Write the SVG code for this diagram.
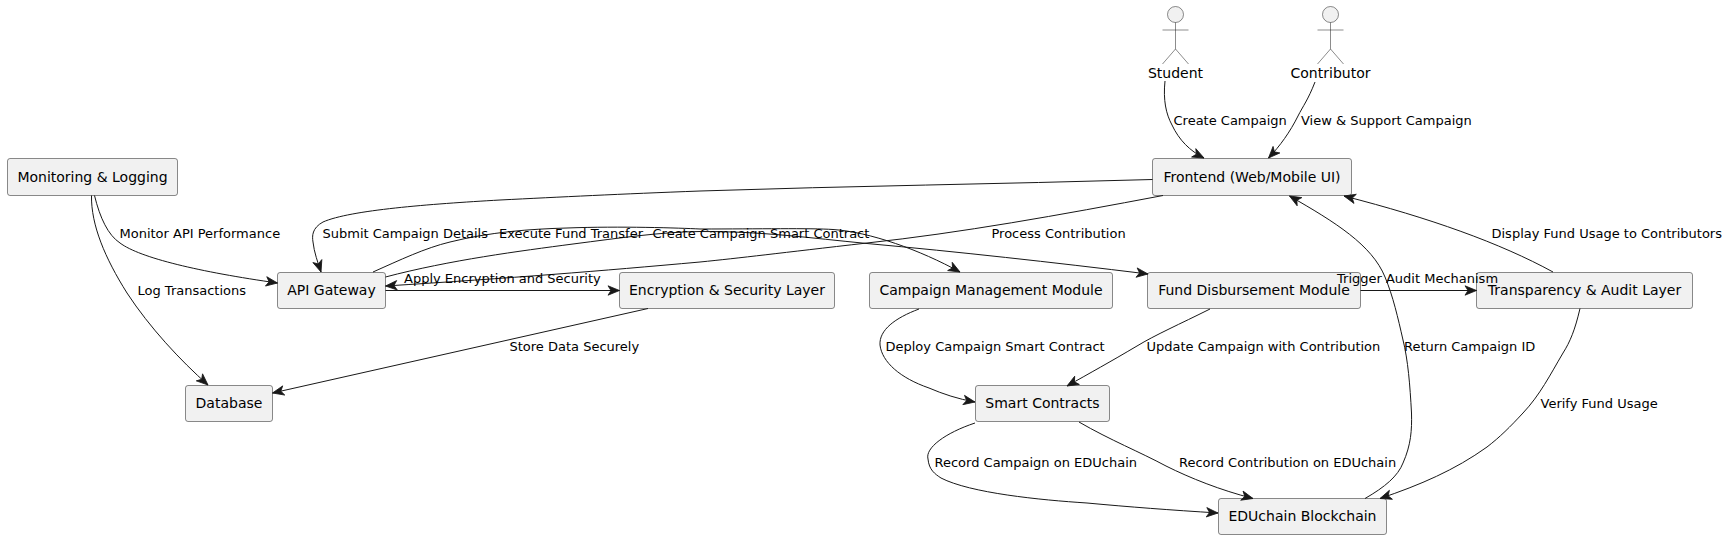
<svg xmlns="http://www.w3.org/2000/svg" width="1729" height="539" viewBox="0 0 1729 539">
<style>
text{font-family:"DejaVu Sans",sans-serif;fill:#000}
.n rect{fill:#F1F1F1;stroke:#181818;stroke-width:.5}
.n text{font-size:14px;text-anchor:middle}
.a circle{fill:#F1F1F1;stroke:#181818;stroke-width:.5}
.a path{fill:none;stroke:#181818;stroke-width:.5}
.a text{font-size:14px;text-anchor:middle}
#connectors path{fill:none;stroke:#181818;stroke-width:1;marker-end:url(#arr)}
#labels text{font-size:13px}
</style>
<defs>
<marker id="arr" markerUnits="userSpaceOnUse" markerWidth="15" markerHeight="13" refX="13" refY="6.500" orient="auto">
<path d="M13 6.500L1.500 1.800L4.500 6.500L1.500 11.200Z" fill="#181818" stroke="#181818" stroke-width=".8"/>
</marker>
</defs>
<g id="student" class="a"><circle cx="1175.500" cy="14.500" r="8"/><path d="M1175.500 22.500V49M1162.500 30H1188.500M1175.500 49L1162.500 64M1175.500 49L1188.500 64"/><text x="1175.500" y="78">Student</text></g>
<g id="contributor" class="a"><circle cx="1330.500" cy="14.500" r="8"/><path d="M1330.500 22.500V49M1317.500 30H1343.500M1330.500 49L1317.500 64M1330.500 49L1343.500 64"/><text x="1330.500" y="78">Contributor</text></g>
<g id="frontend" class="n"><rect x="1152.500" y="158.500" width="199" height="37" rx="2.500"/><text x="1252" y="182">Frontend (Web/Mobile UI)</text></g>
<g id="monitoring" class="n"><rect x="7.500" y="158.500" width="170" height="37" rx="2.500"/><text x="92.500" y="182">Monitoring &amp; Logging</text></g>
<g id="api" class="n"><rect x="277.500" y="272.500" width="108" height="36" rx="2.500"/><text x="331.500" y="295">API Gateway</text></g>
<g id="encryption" class="n"><rect x="619.500" y="272.500" width="215" height="36" rx="2.500"/><text x="727" y="295">Encryption &amp; Security Layer</text></g>
<g id="campaign" class="n"><rect x="869.500" y="272.500" width="243" height="36" rx="2.500"/><text x="991" y="295">Campaign Management Module</text></g>
<g id="fund" class="n"><rect x="1147.500" y="272.500" width="213" height="36" rx="2.500"/><text x="1254" y="295">Fund Disbursement Module</text></g>
<g id="transparency" class="n"><rect x="1476.500" y="272.500" width="216" height="36" rx="2.500"/><text x="1584.500" y="295">Transparency &amp; Audit Layer</text></g>
<g id="database" class="n"><rect x="185.500" y="385.500" width="87" height="36" rx="2.500"/><text x="229" y="408">Database</text></g>
<g id="smart" class="n"><rect x="975.500" y="385.500" width="134" height="36" rx="2.500"/><text x="1042.500" y="408">Smart Contracts</text></g>
<g id="eduhain" class="n"><rect x="1218.500" y="498.500" width="168" height="36" rx="2.500"/><text x="1302.500" y="521">EDUchain Blockchain</text></g>
<g id="connectors">
<path d="M1165 81C1163 100 1166 114 1172 125C1179 140 1190 151 1204 158"/>
<path d="M1315 82C1308 100 1303 106 1298 116C1290 132 1280 146 1268.500 158"/>
<path d="M1152.500 179.500C1000 184 850 186 700 191C620 194 560 197 500 200C430 204 350 210 323 222C312 228 312 236 313 242C314 252 318 263 321 272"/>
<path d="M1163 195.500C1060 215 960 233 867 243C780 253 740 258 700 262C600 271 513 278 385.500 286"/>
<path d="M385.500 277C450 260 520 251 573 244C620 238 660 232 700 231.500C760 231 810 238 867 243.500C960 252 1050 262 1148 274"/>
<path d="M373 272C400 260 425 248 450 242C490 232 530 229 567 228C620 226 680 228 700 229C760 229 810 228 833 229.500C870 232 920 250 960 272"/>
<path d="M385.500 290.500H619.500"/>
<path d="M648 308.500L272.500 393"/>
<path d="M94.500 195.500C100 218 108 235 120 243C140 258 200 272 277.500 283"/>
<path d="M91.500 195.500C91 225 105 258 127 293C150 328 180 360 208 385"/>
<path d="M919 309C895 318 879 330 880 345C882 362 900 378 929 388C943 394 958 399 975 402"/>
<path d="M1210 309C1180 324 1155 335 1137 346C1110 362 1090 373 1067 386"/>
<path d="M975 423C945 433 925 448 928 459C929 470 935 474 941 478C970 493 1040 500 1087 503C1130 507 1170 510 1218 513"/>
<path d="M1079 422C1110 440 1140 452 1166 466C1190 478 1220 490 1253 498.500"/>
<path d="M1365 498.500C1385 487 1398 476 1403 463C1411 445 1412 430 1411.500 413C1410 385 1408 360 1403 340C1398 318 1393 296 1385 277C1372 245 1335 222 1289.500 196"/>
<path d="M1553 272C1500 243 1430 218 1344 196"/>
<path d="M1580 308.500C1575 330 1570 342 1563 353C1550 375 1540 395 1523 413C1510 427 1500 437 1487 447C1455 470 1420 485 1380 498.500"/>
<path d="M1360.500 290.500H1476.500"/>
</g>
<g id="labels">
<text x="1173.500" y="125">Create Campaign</text>
<text x="1301" y="125">View &amp; Support Campaign</text>
<text x="1491.500" y="238">Display Fund Usage to Contributors</text>
<text x="991.500" y="238">Process Contribution</text>
<text x="322.500" y="238">Submit Campaign Details</text>
<text x="499" y="238">Execute Fund Transfer</text>
<text x="652.500" y="238">Create Campaign Smart Contract</text>
<text x="404" y="283">Apply Encryption and Security</text>
<text x="1337" y="283">Trigger Audit Mechanism</text>
<text x="119.500" y="238">Monitor API Performance</text>
<text x="137.500" y="295">Log Transactions</text>
<text x="509.500" y="351">Store Data Securely</text>
<text x="885.500" y="351">Deploy Campaign Smart Contract</text>
<text x="1146.500" y="351">Update Campaign with Contribution</text>
<text x="1404" y="351">Return Campaign ID</text>
<text x="1540.500" y="408">Verify Fund Usage</text>
<text x="934.500" y="467">Record Campaign on EDUchain</text>
<text x="1179" y="467">Record Contribution on EDUchain</text>
</g>
</svg>
